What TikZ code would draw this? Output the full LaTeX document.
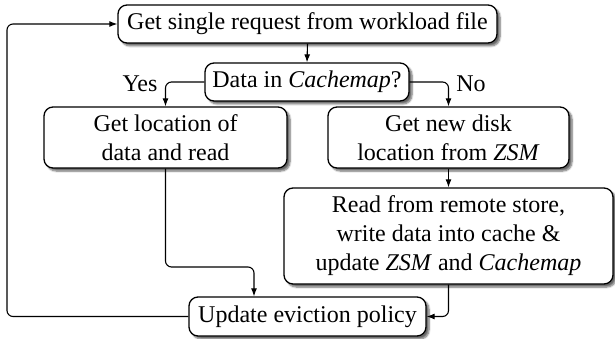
\documentclass[tikz,border=0pt]{standalone}
\usepackage{fontspec}
\setmainfont{Liberation Serif}
\usetikzlibrary{arrows.meta,shadows.blur}
\begin{document}
\begin{tikzpicture}[x=1pt,y=-1pt,
  box/.style={draw=black, line width=1.3pt, fill=white, rounded corners=9pt,
    align=center, inner sep=0pt,
    font=\fontsize{24}{29}\selectfont,
    blur shadow={shadow xshift=3pt, shadow yshift=-3pt, shadow blur steps=6, shadow opacity=60}},
  conn/.style={line width=1.1pt, rounded corners=6pt, -{Latex[length=8pt,width=6pt]}},
  lbl/.style={font=\fontsize{24}{29}\selectfont, inner sep=0pt}]
\useasboundingbox (0,0) rectangle (615,339);
\node[box, minimum width=379pt, minimum height=38pt] (b1) at (307.5,24) {Get single request from workload file};
\node[box, minimum width=204pt, minimum height=38pt] (b2) at (307,82) {Data in \textit{Cachemap}?};
\node[box, minimum width=243pt, minimum height=61pt] (b3) at (165.5,137.5) {Get location of\\data and read};
\node[box, minimum width=241pt, minimum height=61pt] (b4) at (448.5,137.5) {Get new disk\\location from \textit{ZSM}};
\node[box, minimum width=329pt, minimum height=96pt] (b5) at (448.5,236) {Read from remote store,\\write data into cache \&\\update \textit{ZSM} and \textit{Cachemap}};
\node[box, minimum width=237pt, minimum height=39pt] (b6) at (307.5,316.5) {Update eviction policy};
\node[lbl] (yes) at (140,84) {Yes};
\node[lbl] (no) at (471,84) {No};
\coordinate (m) at (254,267);
\coordinate (L) at (7,170);
\draw[conn] (b1.south) -- (b2.north);
\draw[conn] (b2.west) -| (b3.north);
\draw[conn] (b2.east) -| (b4.north);
\draw[conn] (b4.south) -- (b5.north);
\draw[conn] (b3.south) |- (m) -- (m |- b6.north);
\draw[conn] (b5.south) |- (b6.east);
\draw[conn] (b6.west) -| (L) |- (b1.west);
\end{tikzpicture}
\end{document}
